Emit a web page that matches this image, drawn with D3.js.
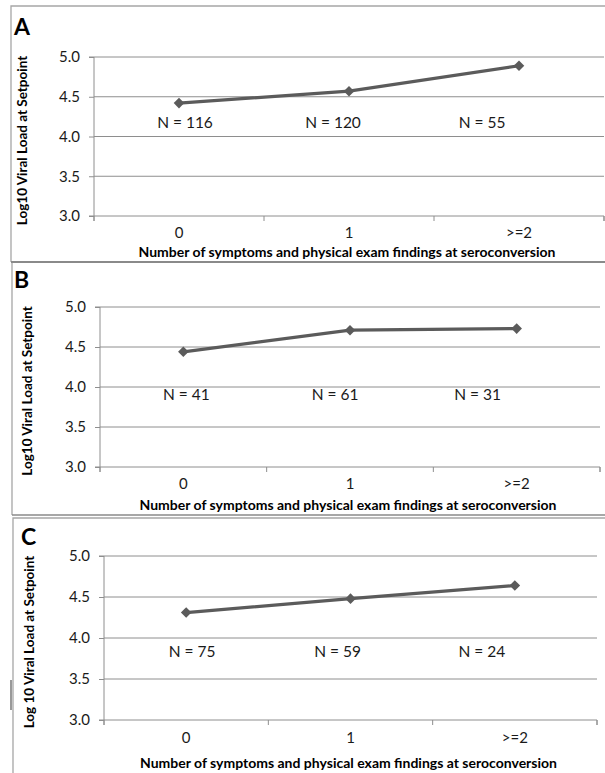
<!DOCTYPE html>
<html><head><meta charset="utf-8">
<script src="https://cdn.jsdelivr.net/npm/d3@7"></script>
<style>
html,body{margin:0;padding:0;background:#fff;}
svg{display:block;font-family:Lato,"Open Sans",sans-serif;}
</style></head>
<body><svg id="chart" width="605" height="773"></svg>
<script>
// ---- data ----
const categories = ["0", "1", ">=2"];
const yTicks = [3.0, 3.5, 4.0, 4.5, 5.0];
const valuesA = [4.42, 4.57, 4.89];
const valuesB = [4.44, 4.71, 4.73];
const valuesC = [4.31, 4.48, 4.64];
const nA = ["N = 116", "N = 120", "N = 55"];
const nB = ["N = 41", "N = 61", "N = 31"];
const nC = ["N = 75", "N = 59", "N = 24"];
const panelLabels = ["A", "B", "C"];
const yTitles = ["Log10 Viral Load at Setpoint", "Log10 Viral Load at Setpoint", "Log 10 Viral Load at Setpoint"];
const xTitle = "Number of symptoms and physical exam findings at seroconversion";

// ---- layout ----
const layouts = [
  {box:[11,6,262], x0:94, x1:604, yTop:57, yBot:216, nY:4.18, nOff:[6,-16,-37], tickY:233, titleY:252, yTitleX:22, letter:[14,35]},
  {box:[12,262,515], x0:100, x1:600, yTop:307, yBot:467, nY:3.9, nOff:[3,-15,-39], tickY:484, titleY:505, yTitleX:27, letter:[14,288]},
  {box:[13,518,800], x0:104, x1:597, yTop:556, yBot:720, nY:3.84, nOff:[6,-13,-33], tickY:738, titleY:763, yTitleX:29, letter:[21,545]}
];
const series = [valuesA, valuesB, valuesC];
const nLabels = [nA, nB, nC];

const svg = d3.select("#chart");
const gridColor = "#8e8e8e", lineColor = "#5b5b5b", textColor = "#1a1a1a";

// panel boxes
layouts.forEach((L,i)=>{
  const [bx, by, bb] = L.box;
  svg.append("path").attr("d",`M605,${by}H${bx}V${bb}`)
    .attr("fill","none").attr("stroke","#a6a6a6").attr("stroke-width",1.3);
});
// heavier separators
svg.append("line").attr("x1",11).attr("x2",605).attr("y1",262).attr("y2",262).attr("stroke","#8a8a8a").attr("stroke-width",2);
svg.append("line").attr("x1",12).attr("x2",605).attr("y1",515).attr("y2",515).attr("stroke","#8a8a8a").attr("stroke-width",1.6);
svg.append("line").attr("x1",11).attr("x2",11).attr("y1",680).attr("y2",710).attr("stroke","#333").attr("stroke-width",1);

layouts.forEach((L,i)=>{
  const g = svg.append("g");
  const x = d3.scaleBand().domain(categories).range([L.x0, L.x1]);
  const y = d3.scaleLinear().domain([3,5]).range([L.yBot, L.yTop]);

  // gridlines
  g.selectAll(".grid").data(yTicks.slice(1)).join("line")
    .attr("x1",L.x0).attr("x2",L.x1)
    .attr("y1",d=>y(d)).attr("y2",d=>y(d))
    .attr("stroke",gridColor).attr("stroke-width",1);

  // y axis
  const ya = d3.axisLeft(y).tickValues(yTicks).tickFormat(d3.format(".1f")).tickSize(5).tickPadding(9);
  const yg = g.append("g").attr("transform",`translate(${L.x0},0)`).call(ya);
  yg.attr("font-size",null).attr("font-family",null);
  yg.select(".domain").attr("stroke",gridColor).attr("d",`M-5,${L.yBot}H0V${L.yTop}H-5`);
  yg.selectAll(".tick line").attr("stroke",gridColor);
  yg.selectAll("text").attr("fill",textColor).style("font-size","15px");

  // x axis
  const xa = d3.axisBottom(x).tickSize(0).tickPadding(0);
  const xg = g.append("g").attr("transform",`translate(0,${L.yBot})`).call(xa);
  xg.attr("font-size",null).attr("font-family",null);
  xg.select(".domain").attr("stroke",gridColor).attr("d",`M${L.x0},5V0H${L.x1}V5`);
  xg.selectAll(".tick text").attr("y",L.tickY - L.yBot).attr("dy","0.32em")
    .attr("fill",textColor).style("font-size","15px");
  // boundary tick marks
  const bounds = categories.map(c=>x(c)).concat([L.x1]);
  g.selectAll(".btick").data(bounds).join("line")
    .attr("x1",d=>d).attr("x2",d=>d).attr("y1",L.yBot).attr("y2",L.yBot+5)
    .attr("stroke",gridColor);

  // line
  const vals = series[i];
  const cx = (d,j)=>x(categories[j]) + x.bandwidth()/2;
  g.append("path").datum(vals)
    .attr("d", d3.line().x((d,j)=>cx(d,j)).y(d=>y(d)))
    .attr("fill","none").attr("stroke",lineColor).attr("stroke-width",3.2);
  g.selectAll(".pt").data(vals).join("path")
    .attr("d", d3.symbol(d3.symbolSquare, 56)())
    .attr("transform",(d,j)=>`translate(${cx(d,j)},${y(d)}) rotate(45)`)
    .attr("fill",lineColor);

  // N labels
  g.selectAll(".nl").data(nLabels[i]).join("text")
    .attr("x",(d,j)=>x(categories[j]) + x.bandwidth()/2 + L.nOff[j])
    .attr("y",y(L.nY)).attr("dy","0.35em").attr("text-anchor","middle")
    .attr("fill",textColor).style("font-size","15.5px").text(d=>d);

  // x title
  g.append("text").attr("x",(L.x0+L.x1)/2 - 2).attr("y",L.titleY).attr("dy","0.35em")
    .attr("text-anchor","middle").attr("fill","#000").style("font-size","14px").style("font-weight","bold")
    .text(xTitle);

  // y title
  g.append("text").attr("transform",`translate(${L.yTitleX},${(L.yTop+L.yBot)/2 + 4}) rotate(-90)`)
    .attr("dy","0.35em").attr("text-anchor","middle").attr("fill","#000")
    .style("font-size","13.5px").style("font-weight","bold").text(yTitles[i]);

  // panel letter
  g.append("text").attr("x",L.letter[0]).attr("y",L.letter[1])
    .attr("fill","#000").style("font-size","23px").style("font-weight","bold")
    .text(panelLabels[i]);
});
</script></body></html>
